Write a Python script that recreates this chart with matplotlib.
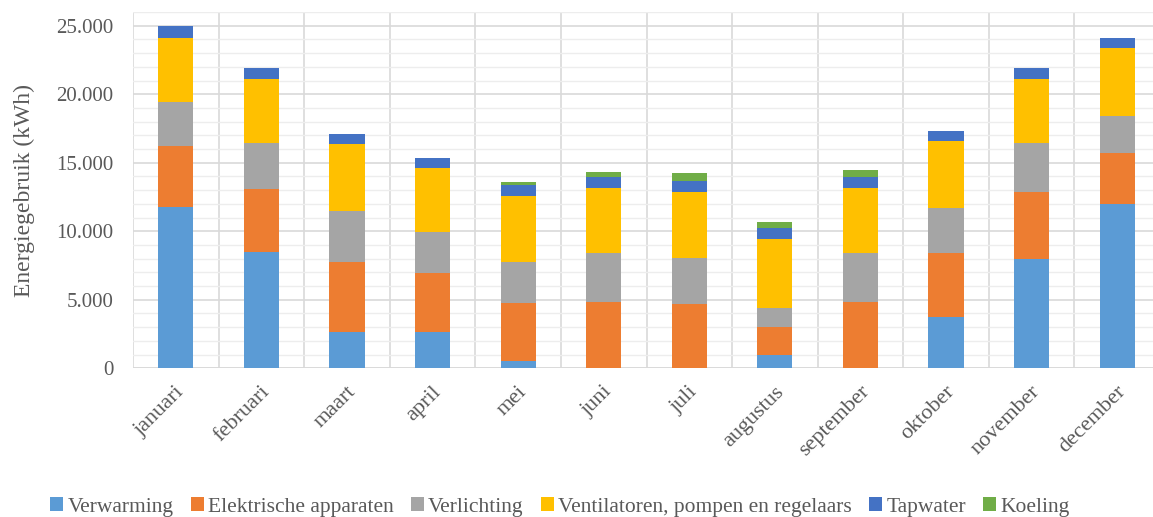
import matplotlib
matplotlib.use("Agg")
import matplotlib.pyplot as plt
import matplotlib.transforms as mtransforms
from matplotlib.ticker import FixedLocator, MultipleLocator, FuncFormatter
import numpy as np

months = ["januari", "februari", "maart", "april", "mei", "juni", "juli",
          "augustus", "september", "oktober", "november", "december"]

verwarming = [11750, 8490, 2670, 2670, 530, 0, 0, 970, 0, 3770, 7950, 11970]
elektrische_apparaten = [4470, 4600, 5060, 4260, 4250, 4860, 4690, 2020, 4860, 4630, 4930, 3760]
verlichting = [3190, 3380, 3740, 2990, 2990, 3530, 3330, 1390, 3580, 3330, 3530, 2700]
ventilatoren = [4715, 4630, 4870, 4670, 4820, 4790, 4820, 5040, 4740, 4870, 4690, 4920]
tapwater = [855, 800, 730, 750, 780, 780, 830, 800, 780, 750, 830, 780]
koeling = [0, 0, 0, 0, 240, 390, 560, 480, 510, 0, 0, 0]

series_names = ["Verwarming", "Elektrische apparaten", "Verlichting",
                "Ventilatoren, pompen en regelaars", "Tapwater", "Koeling"]
series_values = [verwarming, elektrische_apparaten, verlichting,
                 ventilatoren, tapwater, koeling]
colors = ["#5B9BD5", "#ED7D31", "#A5A5A5", "#FFC000", "#4472C4", "#70AD47"]

text_color = "#595959"
font = "Liberation Serif"
plt.rcParams["font.family"] = [font, "DejaVu Serif"]

fig = plt.figure(figsize=(11.53, 5.17), dpi=100)
ax = fig.add_axes([133 / 1153, 1 - 368.3 / 517, 1027 / 1153, 356.3 / 517])

x = np.arange(len(months))
bottom = np.zeros(len(months))
handles = []
for name, vals, col in zip(series_names, series_values, colors):
    vals = np.array(vals, dtype=float)
    h = ax.bar(x, vals, width=0.41, bottom=bottom, color=col, label=name,
               zorder=3, linewidth=0)
    handles.append(h)
    bottom += vals

ax.set_xlim(-0.5, len(months) - 0.5)
ax.set_ylim(0, 26000)

# horizontal grid: major every 5.000, minor every 1.000
ax.yaxis.set_major_locator(FixedLocator(np.arange(0, 25001, 5000)))
ax.yaxis.set_minor_locator(MultipleLocator(1000))
ax.yaxis.set_major_formatter(FuncFormatter(lambda v, p: f"{int(v):,}".replace(",", ".")))
ax.grid(axis="y", which="minor", color="#EDEDED", linewidth=1.0, zorder=0)
ax.grid(axis="y", which="major", color="#D9D9D9", linewidth=1.2, zorder=1)

# vertical separators between months
for b in np.arange(-0.5, len(months) + 0.5, 1.0):
    ax.axvline(b, color="#D9D9D9", linewidth=1.2, zorder=1)

for s in ax.spines.values():
    s.set_visible(False)
ax.axhline(0, color="#D9D9D9", linewidth=1.2, zorder=2)

ax.tick_params(axis="both", which="both", length=0)
ax.tick_params(axis="y", labelsize=15, labelcolor=text_color, pad=14)
ax.set_xticks(x)
ax.set_xticklabels(months, rotation=45, ha="right", va="center",
                   rotation_mode="anchor", fontsize=16, color=text_color)
offset = mtransforms.ScaledTranslation(6 / 100, -16 / 100, fig.dpi_scale_trans)
for lbl in ax.get_xticklabels():
    lbl.set_transform(lbl.get_transform() + offset)

ax.set_ylabel("Energiegebruik (kWh)", fontsize=17, color=text_color, labelpad=15)

fig.legend(handles=handles, labels=series_names, loc="center",
           bbox_to_anchor=(560 / 1153, 1 - 507 / 517), ncol=6, frameon=False,
           fontsize=15.5, labelcolor=text_color, handlelength=0.6,
           handleheight=0.6, handletextpad=0.2, columnspacing=0.8)

fig.savefig("out.png", dpi=100)
